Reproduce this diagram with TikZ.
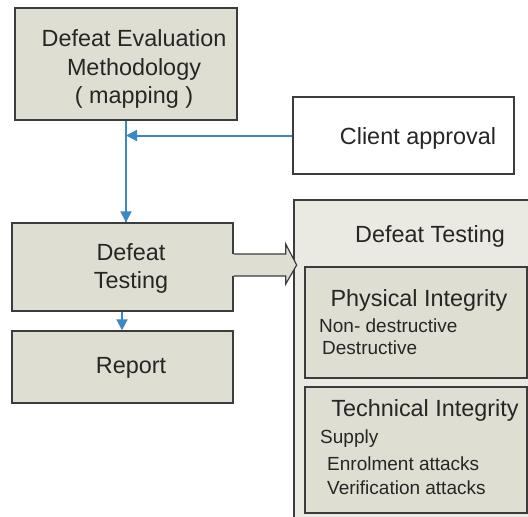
\documentclass[tikz,border=0pt]{standalone}
\usepackage{fontspec}
\setmainfont{Liberation Sans}
\usetikzlibrary{arrows.meta,calc}

\definecolor{boxfill}{HTML}{DFDED2}
\definecolor{panelfill}{HTML}{EAEAE3}
\definecolor{edge}{HTML}{3C3C3C}
\definecolor{flow}{HTML}{3A88C4}
\definecolor{ink}{HTML}{262626}

\tikzset{
  box/.style={draw=edge, line width=1.4pt, fill=boxfill, inner sep=0pt},
  plainbox/.style={draw=edge, line width=1.4pt, fill=white, inner sep=0pt},
  bigtext/.style={text=ink, font=\fontsize{23.4}{28.5}\selectfont, align=center, inner sep=0pt},
  smalltext/.style={text=ink, font=\fontsize{19}{23}\selectfont, inner sep=0pt, anchor=west},
  flowline/.style={draw=flow, line width=2pt},
  flowtip/.style={-{Triangle[length=11pt,width=11pt]}},
}

\begin{document}
\begin{tikzpicture}[x=1pt,y=-1pt]
\useasboundingbox (0,0) rectangle (528,517);
\fill[white] (0,0) rectangle (528,517);

% left column
\node[box, minimum width=222pt, minimum height=112pt] (eval) at (126,64) {};
\node[bigtext] (evaltxt) at (134,69) {Defeat Evaluation\\Methodology\\( mapping )};

\node[plainbox, minimum width=221pt, minimum height=77pt] (client) at (403.5,135.5) {};
\node[bigtext] (clienttxt) at (418,138.5) {Client approval};

\node[box, minimum width=221pt, minimum height=88pt] (dt) at (122.5,267) {};
\node[bigtext] (dttxt) at (131,268.5) {Defeat\\Testing};

\node[box, minimum width=221pt, minimum height=72pt] (report) at (122.5,367) {};
\node[bigtext] (reporttxt) at (131,368) {Report};

% connectors
\coordinate (join) at (eval.south |- client.west);
\draw[flowline] (eval.south) -- (eval.south |- dt.north) coordinate (dtin);
\draw[flowline, flowtip] (eval.south |- dt.north) ++(0,-12) -- (dtin);
\draw[flowline, flowtip] (client.west) -- (join);
\draw[flowline, flowtip] ([xshift=-0.5pt]dt.south) -- ([xshift=-0.5pt]report.north);

% detail panel
\fill[panelfill] (294,200) rectangle (530,520);
\draw[edge, line width=1.4pt] (530,200) -- (294,200) -- (294,520);
\node[bigtext] (paneltitle) at (430,236.5) {Defeat Testing};

\node[box, minimum width=222pt, minimum height=111pt] (phys) at (416,322.5) {};
\node[bigtext] (physttl) at (419,300.5) {Physical Integrity};
\node[smalltext] (nd) at (319,326) {Non- destructive};
\node[smalltext] (des) at (322,348) {Destructive};

\node[box, minimum width=222pt, minimum height=126pt] (tech) at (416,450) {};
\node[bigtext] (techttl) at (425,410.5) {Technical Integrity};
\node[smalltext] (sup) at (320,439) {Supply};
\node[smalltext] (enr) at (327,464) {Enrolment attacks};
\node[smalltext] (ver) at (327,488) {Verification attacks};

% block arrow from the testing box into the panel
\begin{scope}[shift={(dt.east)}]
  \fill[boxfill] (-1.5,-13) rectangle (2,9);
  \draw[edge, line width=1.2pt, fill=boxfill, line join=miter]
    (0,-13) -- (52,-13) -- (52,-23) -- (63,-2) -- (52,17) -- (52,9) -- (0,9);
\end{scope}
\end{tikzpicture}
\end{document}
